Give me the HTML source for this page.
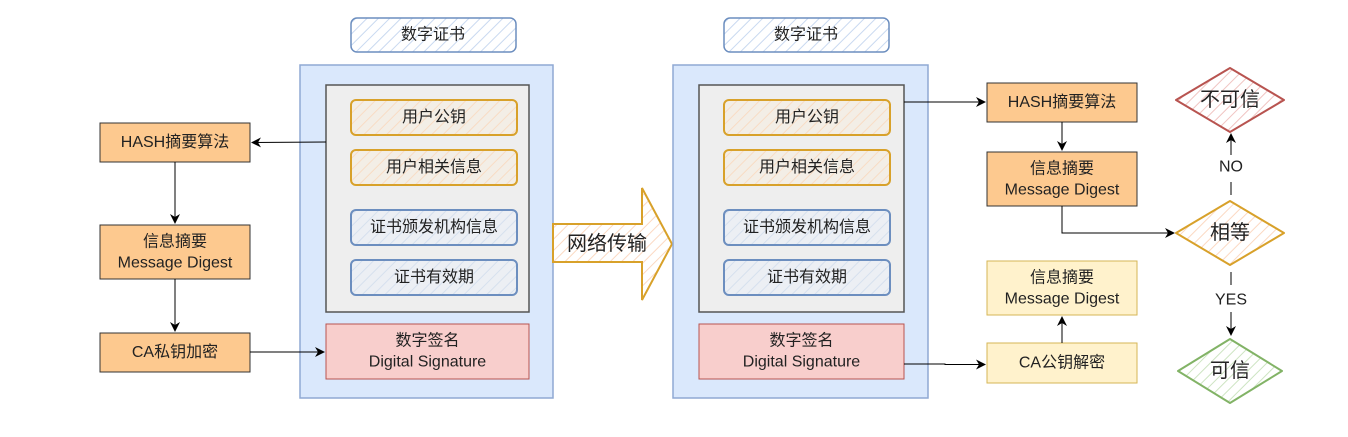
<!DOCTYPE html>
<html><head><meta charset="utf-8"><style>
html,body{margin:0;padding:0;background:#fff;}
svg text{font-family:"Liberation Sans","Noto Sans CJK SC",sans-serif;fill:#222;text-anchor:middle;dominant-baseline:central;}
</style></head><body>
<svg width="1348" height="432" viewBox="0 0 1348 432" xmlns="http://www.w3.org/2000/svg">
<defs>
<pattern id="hb" width="8" height="8" patternUnits="userSpaceOnUse" patternTransform="rotate(45)"><rect width="8" height="8" fill="#fff"/><line x1="0" y1="0" x2="0" y2="8" stroke="#c9d9f0" stroke-width="2"/></pattern>
<pattern id="ho" width="8" height="8" patternUnits="userSpaceOnUse" patternTransform="rotate(45)"><rect width="8" height="8" fill="#f3eee6"/><line x1="0" y1="0" x2="0" y2="8" stroke="#f8dcc4" stroke-width="2"/></pattern>
<pattern id="hb2" width="8" height="8" patternUnits="userSpaceOnUse" patternTransform="rotate(45)"><rect width="8" height="8" fill="#eceff4"/><line x1="0" y1="0" x2="0" y2="8" stroke="#d6e0ee" stroke-width="2"/></pattern>
<pattern id="hy" width="8" height="8" patternUnits="userSpaceOnUse" patternTransform="rotate(45)"><rect width="8" height="8" fill="#fff"/><line x1="0" y1="0" x2="0" y2="8" stroke="#fbd9c2" stroke-width="2"/></pattern>
<pattern id="hr" width="8" height="8" patternUnits="userSpaceOnUse" patternTransform="rotate(45)"><rect width="8" height="8" fill="#fff"/><line x1="0" y1="0" x2="0" y2="8" stroke="#f0c4c2" stroke-width="2"/></pattern>
<pattern id="hg" width="8" height="8" patternUnits="userSpaceOnUse" patternTransform="rotate(45)"><rect width="8" height="8" fill="#fff"/><line x1="0" y1="0" x2="0" y2="8" stroke="#cde4c2" stroke-width="2"/></pattern>
<marker id="ar" markerWidth="10" markerHeight="10" refX="9" refY="5" orient="auto" markerUnits="userSpaceOnUse"><path d="M0,0 L10,5 L0,10 L3,5 z" fill="#000"/></marker>
</defs>

<!-- Left column -->
<rect x="100" y="123" width="150" height="39" fill="#fdc98f" stroke="#333" stroke-width="1"/>
<text x="175" y="142.5" font-size="16">HASH摘要算法</text>
<rect x="100" y="225" width="150" height="54" fill="#fdc98f" stroke="#333"/>
<text x="175" y="242" font-size="16">信息摘要</text>
<text x="175" y="263" font-size="16">Message Digest</text>
<rect x="100" y="333" width="150" height="39" fill="#fdc98f" stroke="#333"/>
<text x="175" y="352.5" font-size="16">CA私钥加密</text>
<line x1="175" y1="162" x2="175" y2="223" stroke="#000" marker-end="url(#ar)"/>
<line x1="175" y1="279" x2="175" y2="331" stroke="#000" marker-end="url(#ar)"/>

<!-- Cert 1 -->
<g>
<rect x="351" y="18" width="165" height="34" rx="6" fill="url(#hb)" stroke="#6c8ebf" stroke-width="1.5"/>
<text x="433" y="35" font-size="16">数字证书</text>
<rect x="300" y="65" width="253" height="333" fill="#dae8fc" stroke="#8fa9d3" stroke-width="1.5"/>
<rect x="326" y="85" width="203" height="227" fill="#eeeeee" stroke="#555" stroke-width="1.5"/>
<rect x="351" y="100" width="166" height="35" rx="5" fill="url(#ho)" stroke="#d8a12a" stroke-width="2"/>
<text x="434" y="117.5" font-size="16">用户公钥</text>
<rect x="351" y="150" width="166" height="35" rx="5" fill="url(#ho)" stroke="#d8a12a" stroke-width="2"/>
<text x="434" y="167.5" font-size="16">用户相关信息</text>
<rect x="351" y="210" width="166" height="35" rx="5" fill="url(#hb2)" stroke="#6c8ebf" stroke-width="2"/>
<text x="434" y="227.5" font-size="16">证书颁发机构信息</text>
<rect x="351" y="260" width="166" height="35" rx="5" fill="url(#hb2)" stroke="#6c8ebf" stroke-width="2"/>
<text x="434" y="277.5" font-size="16">证书有效期</text>
<rect x="326" y="324" width="203" height="55" fill="#f8cecc" stroke="#b85450" stroke-width="1"/>
<text x="427.5" y="341" font-size="16">数字签名</text>
<text x="427.5" y="362" font-size="16">Digital Signature</text>
</g>
<line x1="326" y1="142" x2="252" y2="142.5" stroke="#000" marker-end="url(#ar)"/>
<line x1="250" y1="352" x2="324" y2="352" stroke="#000" marker-end="url(#ar)"/>

<!-- Big arrow -->
<path d="M553,224 L642,224 L642,188 L672,244 L642,300 L642,262 L553,262 Z" fill="url(#hy)" stroke="#d8a12a" stroke-width="2"/>
<text x="607" y="244" font-size="20">网络传输</text>

<!-- Cert 2 -->
<g transform="translate(373,0)">
<rect x="351" y="18" width="165" height="34" rx="6" fill="url(#hb)" stroke="#6c8ebf" stroke-width="1.5"/>
<text x="433" y="35" font-size="16">数字证书</text>
<rect x="300" y="65" width="255" height="333" fill="#dae8fc" stroke="#8fa9d3" stroke-width="1.5"/>
<rect x="326" y="85" width="205" height="227" fill="#eeeeee" stroke="#555" stroke-width="1.5"/>
<rect x="351" y="100" width="166" height="35" rx="5" fill="url(#ho)" stroke="#d8a12a" stroke-width="2"/>
<text x="434" y="117.5" font-size="16">用户公钥</text>
<rect x="351" y="150" width="166" height="35" rx="5" fill="url(#ho)" stroke="#d8a12a" stroke-width="2"/>
<text x="434" y="167.5" font-size="16">用户相关信息</text>
<rect x="351" y="210" width="166" height="35" rx="5" fill="url(#hb2)" stroke="#6c8ebf" stroke-width="2"/>
<text x="434" y="227.5" font-size="16">证书颁发机构信息</text>
<rect x="351" y="260" width="166" height="35" rx="5" fill="url(#hb2)" stroke="#6c8ebf" stroke-width="2"/>
<text x="434" y="277.5" font-size="16">证书有效期</text>
<rect x="326" y="324" width="205" height="55" fill="#f8cecc" stroke="#b85450" stroke-width="1"/>
<text x="428.5" y="341" font-size="16">数字签名</text>
<text x="428.5" y="362" font-size="16">Digital Signature</text>
</g>

<!-- Right column -->
<rect x="987" y="83" width="150" height="39" fill="#fdc98f" stroke="#333"/>
<text x="1062" y="102.5" font-size="16">HASH摘要算法</text>
<rect x="987" y="152" width="150" height="54" fill="#fdc98f" stroke="#333"/>
<text x="1062" y="169" font-size="16">信息摘要</text>
<text x="1062" y="190" font-size="16">Message Digest</text>
<rect x="987" y="261" width="150" height="54" fill="#fff2cc" stroke="#d6b656"/>
<text x="1062" y="278" font-size="16">信息摘要</text>
<text x="1062" y="299" font-size="16">Message Digest</text>
<rect x="987" y="343" width="150" height="40" fill="#fff2cc" stroke="#d6b656"/>
<text x="1062" y="363" font-size="16">CA公钥解密</text>
<line x1="904" y1="102" x2="985" y2="102" stroke="#000" marker-end="url(#ar)"/>
<line x1="1062" y1="122" x2="1062" y2="150" stroke="#000" marker-end="url(#ar)"/>
<line x1="1062" y1="343" x2="1062" y2="317" stroke="#000" marker-end="url(#ar)"/>
<path d="M904,364 L945,364 L945,364.5 L985,364.5" fill="none" stroke="#000" marker-end="url(#ar)"/>
<path d="M1062,206 L1062,233 L1174,233" fill="none" stroke="#000" marker-end="url(#ar)"/>

<!-- Diamonds -->
<path d="M1176,100 L1230,68 L1284,100 L1230,132 Z" fill="url(#hr)" stroke="#b85450" stroke-width="2" stroke-linejoin="round"/>
<text x="1230" y="100" font-size="20">不可信</text>
<path d="M1176,233 L1230,201 L1284,233 L1230,265 Z" fill="url(#hy)" stroke="#d8a12a" stroke-width="2" stroke-linejoin="round"/>
<text x="1230" y="233" font-size="20">相等</text>
<path d="M1178,371 L1230,339 L1282,371 L1230,403 Z" fill="url(#hg)" stroke="#82b366" stroke-width="2" stroke-linejoin="round"/>
<text x="1230" y="371" font-size="20">可信</text>

<line x1="1231" y1="195" x2="1231" y2="182" stroke="#000"/>
<text x="1231" y="167" font-size="16">NO</text>
<line x1="1231" y1="155" x2="1231" y2="134" stroke="#000" marker-end="url(#ar)"/>
<line x1="1231" y1="272" x2="1231" y2="285" stroke="#000"/>
<text x="1231" y="300" font-size="16">YES</text>
<line x1="1231" y1="312" x2="1231" y2="335" stroke="#000" marker-end="url(#ar)"/>
</svg>
</body></html>
